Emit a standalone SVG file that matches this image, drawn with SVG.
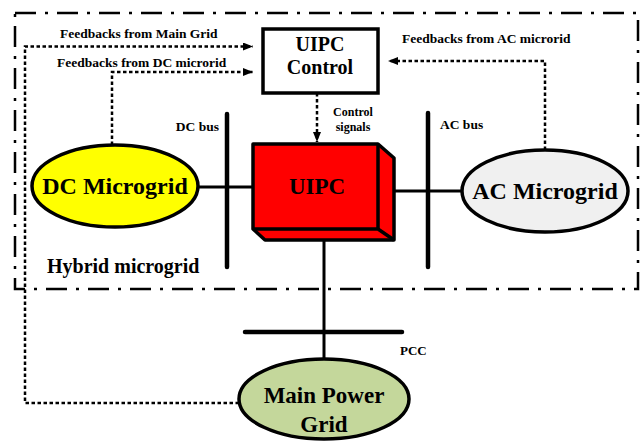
<svg xmlns="http://www.w3.org/2000/svg" width="642" height="441" viewBox="0 0 642 441">
<style>
text{font-family:"Liberation Serif","Times New Roman",serif;font-weight:bold;fill:#000}
.sm{font-size:13.5px}
.dot{fill:none;stroke:#000;stroke-width:2.5;stroke-dasharray:3.5 2.5}
.bus{stroke:#000;stroke-width:4.5;stroke-linecap:round}
.ln{stroke:#000;stroke-width:3}
.node{stroke:#000;stroke-width:3.5}
</style>
<defs>
<marker id="ah" viewBox="0 0 10 8" refX="10" refY="4" markerWidth="10" markerHeight="8" markerUnits="userSpaceOnUse" orient="auto">
<path d="M0,0 L10,4 L0,8 z" fill="#000"/>
</marker>
</defs>
<rect width="642" height="441" fill="#fff"/>
<g id="hybrid-boundary">
<rect x="15" y="13" width="623" height="276" fill="none" stroke="#000" stroke-width="2.5" stroke-dasharray="21 9 3 9"/>
<text x="47" y="273" font-size="20">Hybrid microgrid</text>
</g>
<g id="connectors">
<polyline class="dot" points="239,403 25,403 25,46.5 253,46.5" marker-end="url(#ah)"/>
<polyline class="dot" points="112,145 112,72 253,72" marker-end="url(#ah)"/>
<polyline class="dot" points="545,150 545,61 388,61" marker-end="url(#ah)"/>
<line class="dot" x1="317" y1="93" x2="317" y2="142" marker-end="url(#ah)"/>
<line class="ln" x1="198" y1="187" x2="253" y2="187"/>
<line class="ln" x1="389" y1="191" x2="462" y2="191"/>
<line class="ln" x1="324" y1="233" x2="324" y2="359"/>
<text class="sm" x="60" y="38">Feedbacks from Main Grid</text>
<text class="sm" x="57" y="67">Feedbacks from DC microrid</text>
<text class="sm" x="402" y="43">Feedbacks from AC microrid</text>
<text x="353" y="116" font-size="12" text-anchor="middle">Control</text>
<text x="353" y="131" font-size="12" text-anchor="middle">signals</text>
</g>
<g id="dc-bus">
<line class="bus" x1="227" y1="114" x2="227" y2="267"/>
<text class="sm" x="219" y="131" text-anchor="end">DC bus</text>
</g>
<g id="ac-bus">
<line class="bus" x1="428" y1="113" x2="428" y2="267"/>
<text class="sm" x="440" y="129">AC bus</text>
</g>
<g id="pcc">
<line class="bus" x1="245" y1="332" x2="402" y2="332"/>
<text x="400" y="355" font-size="13">PCC</text>
</g>
<g id="uipc-control">
<rect class="node" x="263" y="29" width="115" height="64" fill="#fff"/>
<text x="320" y="51" font-size="20" text-anchor="middle">UIPC</text>
<text x="320" y="74" font-size="20" text-anchor="middle">Control</text>
</g>
<g id="uipc">
<polygon class="node" points="253,144 378,144 394,158 394,240 265,240 253,229" fill="#ff0000" stroke-linejoin="round"/>
<polyline class="node" points="253,229 378,229 394,240" fill="none"/>
<polyline class="node" points="378,144 378,229" fill="none"/>
<text x="317" y="194" font-size="23" text-anchor="middle">UIPC</text>
</g>
<g id="dc-microgrid">
<ellipse class="node" cx="115" cy="186" rx="83" ry="41" fill="#ffff00"/>
<text x="115" y="194" font-size="24" text-anchor="middle">DC Microgrid</text>
</g>
<g id="ac-microgrid">
<ellipse class="node" cx="545" cy="191" rx="83" ry="41" fill="#f0f0f0"/>
<text x="545" y="199" font-size="24" text-anchor="middle">AC Microgrid</text>
</g>
<g id="main-grid">
<ellipse class="node" cx="324" cy="399" rx="85" ry="40" fill="#c4d79b"/>
<text x="324" y="403" font-size="23" text-anchor="middle">Main Power</text>
<text x="324" y="432" font-size="23" text-anchor="middle">Grid</text>
</g>
</svg>
